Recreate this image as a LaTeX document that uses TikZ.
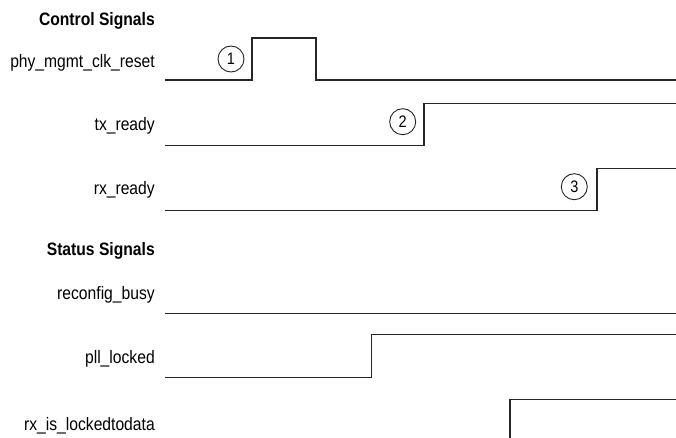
\documentclass[tikz,border=0pt]{standalone}
\usepackage{fontspec}
\setmainfont{Liberation Sans}[FakeStretch=0.87]
\begin{document}
\begin{tikzpicture}[x=0.75pt,y=-0.75pt,
  lbl/.style={anchor=base east,inner sep=0pt,font=\fontsize{13.5}{16}\selectfont},
  hdr/.style={lbl,font=\fontsize{13.5}{16}\selectfont\bfseries},
  wave/.style={draw=black!85,line width=0.9pt,line join=miter},
  num/.style={circle,draw=black!85,line width=0.7pt,minimum size=26*0.75pt,inner sep=0pt,font=\fontsize{12.5}{14}\selectfont}]
\useasboundingbox (0,0) rectangle (676,438);
% labels
\node[hdr] (hctrl) at (155,26) {Control Signals};
\node[lbl] (lphy) at (155,67.5) {phy\_mgmt\_clk\_reset};
\node[lbl] (ltx) at (155,131) {tx\_ready};
\node[lbl] (lrx) at (155,195) {rx\_ready};
\node[hdr] (hstat) at (155,256) {Status Signals};
\node[lbl] (lbusy) at (155,300) {reconfig\_busy};
\node[lbl] (lpll) at (155,364) {pll\_locked};
\node[lbl] (llock) at (155,431) {rx\_is\_lockedtodata};
% waveforms
\draw[wave] (165,80) -- (252,80) -- (252,38) -- (316,38) -- (316,80) -- (676,80);
\draw[wave] (165,145.5) -- (424,145.5) -- (424,103.5) -- (676,103.5);
\draw[wave] (165,210.5) -- (597,210.5) -- (597,168.5) -- (676,168.5);
\draw[wave] (165,313.5) -- (676,313.5);
\draw[wave] (165,377.5) -- (371.5,377.5) -- (371.5,334.5) -- (676,334.5);
\draw[wave] (510,440) -- (510,399.5) -- (676,399.5);
% numbered markers
\node[num] (n1) at (231,59) {1};
\node[num] (n2) at (402.7,121.7) {2};
\node[num] (n3) at (574.3,186.7) {3};
\end{tikzpicture}
\end{document}
